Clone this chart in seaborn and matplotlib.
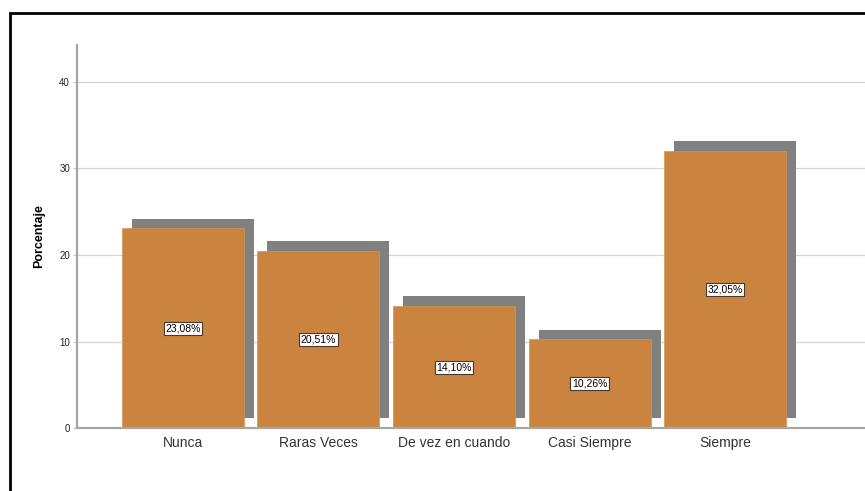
import numpy as np
import pandas as pd
import matplotlib
matplotlib.use("Agg")
import matplotlib.pyplot as plt
import seaborn as sns
from matplotlib.patches import Rectangle

categorias = ["Nunca", "Raras Veces", "De vez en cuando", "Casi Siempre", "Siempre"]
porcentajes = [23.08, 20.51, 14.10, 10.26, 32.05]
etiquetas = ["23,08%", "20,51%", "14,10%", "10,26%", "32,05%"]
yticks = [0, 10, 20, 30, 40]

sns.set_theme(style="white")
plt.rcParams["font.family"] = ["Liberation Sans", "DejaVu Sans"]

df = pd.DataFrame({"categoria": categorias, "porcentaje": porcentajes})

fig = plt.figure(figsize=(8.65, 4.91), dpi=100)
ax = fig.add_axes([0.089, 0.128, 0.911, 0.781])

bar_color = "#CB843F"
shadow_color = "#808080"
width = 0.9
# shadow offset (data units): ~10px right, ~10px up
dx, dy = 0.074, 1.12

pos = np.arange(len(categorias))
ax.bar(pos + dx, porcentajes, width=width, bottom=dy, color=shadow_color,
       linewidth=0, zorder=1)
sns.barplot(data=df, x="categoria", y="porcentaje", color=bar_color,
            saturation=1, width=width, ax=ax, zorder=2,
            edgecolor="#D49255", linewidth=0.5)

for i, (v, lab) in enumerate(zip(porcentajes, etiquetas)):
    ax.text(i, v / 2, lab, ha="center", va="center", fontsize=7.5, color="black",
            zorder=3,
            bbox=dict(boxstyle="square,pad=0.15", facecolor="white",
                      edgecolor="#4a3a2a", linewidth=0.8))

ax.set_xlim(-0.78, 5.03)
ax.set_ylim(0, 44.3)
ax.set_yticks(yticks)
ax.yaxis.grid(True, color="#d4d4d4", linewidth=0.9)
ax.set_axisbelow(True)

sns.despine(ax=ax, top=True, right=True)
for s in ["left", "bottom"]:
    ax.spines[s].set_color("#a6a6a6")
    ax.spines[s].set_linewidth(1.6)

ax.tick_params(axis="y", length=3, width=0.8, color="#c8c8c8", labelsize=7,
               labelcolor="#222222", pad=2, left=True)
ax.tick_params(axis="x", length=0, labelsize=10, labelcolor="#333333", pad=6)

ax.set_xlabel("")
ax.set_ylabel("Porcentaje", fontsize=9, fontweight="bold", color="black", labelpad=10)

# outer frame (SPSS output border, cropped at right/bottom)
frame = Rectangle((10 / 865, -0.2), 2.0, 1.2 - 13 / 491, transform=fig.transFigure,
                  fill=False, edgecolor="black", linewidth=2, clip_on=False)
fig.patches.append(frame)

fig.savefig("out.png", dpi=100)
plt.close(fig)
